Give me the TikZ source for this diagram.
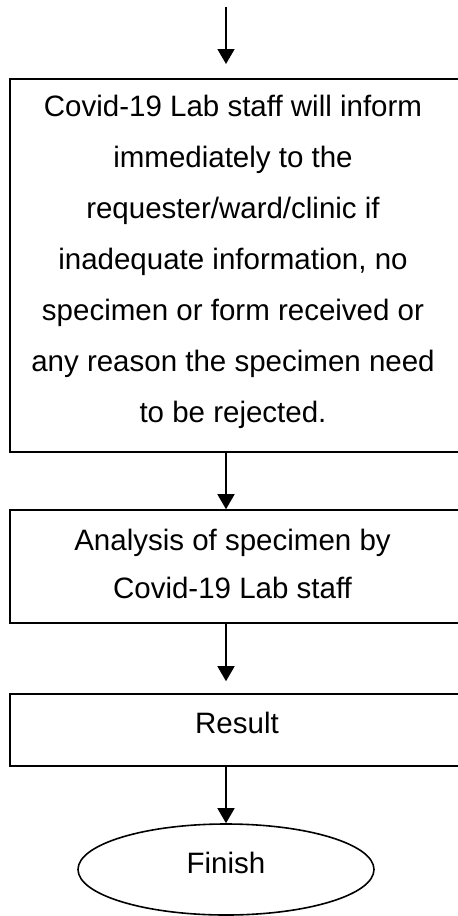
\documentclass[tikz,border=0pt]{standalone}
\usepackage{fontspec}
\setmainfont{Liberation Sans}
\usetikzlibrary{arrows.meta,shapes.geometric}
\begin{document}
\begin{tikzpicture}[x=1pt,y=-1pt,
  line width=1.6pt,
  box/.style={draw, rectangle, inner sep=0pt},
  oval/.style={draw, ellipse, inner sep=0pt},
  txt/.style={align=center, inner sep=0pt, anchor=north},
  big/.style={font=\fontsize{29.5}{51}\selectfont},
  mid/.style={font=\fontsize{29.5}{48}\selectfont},
  arr/.style={-{Triangle[length=15pt,width=17pt]}, line width=1.6pt}]
\useasboundingbox (0,0) rectangle (458,916);
\coordinate (ax) at (226,0);
\coordinate (start) at (226,7);
\coordinate (e1) at (226,64);
\node[box, minimum width=449pt, minimum height=373pt] (b1) at (234.5,265.5) {};
\node[box, minimum width=449pt, minimum height=113pt] (b2) at (234.5,566.5) {};
\node[box, minimum width=449pt, minimum height=72pt] (b3) at (234.5,730) {};
\node[oval, minimum width=296pt, minimum height=91pt] (fin) at (226,869.5) {};
\node[txt, big] (t1) at (233,94.5) {Covid-19 Lab staff will inform\\immediately to the\\requester/ward/clinic if\\inadequate information, no\\specimen or form received or\\any reason the specimen need\\to be rejected.};
\node[txt, mid] (t2) at (232.5,528.5) {Analysis of specimen by\\Covid-19 Lab staff};
\node[txt, mid] (t3) at (237,711.5) {Result};
\node[txt, mid] (t4) at (226,851.5) {Finish};
\draw[arr] (start) -- (e1);
\draw[arr] (b1.south -| ax) -- (b2.north -| ax);
\draw[arr, shorten >=12pt] (b2.south -| ax) -- (b3.north -| ax);
\draw[arr] (b3.south -| ax) -- (fin.north);
\end{tikzpicture}
\end{document}
